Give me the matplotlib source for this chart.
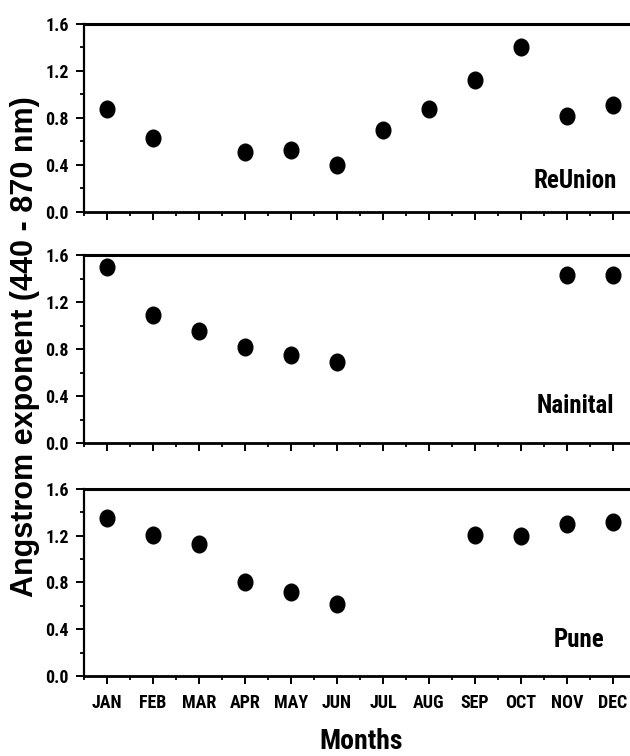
import numpy as np
import matplotlib.pyplot as plt
from matplotlib.ticker import MultipleLocator
from matplotlib.path import Path
from matplotlib.transforms import Affine2D

months = ['JAN', 'FEB', 'MAR', 'APR', 'MAY', 'JUN', 'JUL', 'AUG', 'SEP', 'OCT', 'NOV', 'DEC']
nan = np.nan

# monthly mean angstrom exponent per station (nan = no data)
reunion = [0.88, 0.63, nan, 0.51, 0.53, 0.40, 0.70, 0.88, 1.12, 1.40, 0.82, 0.91]
nainital = [1.50, 1.09, 0.95, 0.82, 0.75, 0.69, nan, nan, nan, nan, 1.43, 1.43]
pune = [1.35, 1.21, 1.13, 0.80, 0.72, 0.62, nan, nan, 1.21, 1.20, 1.30, 1.32]

stations = ['ReUnion', 'Nainital', 'Pune']
values = [reunion, nainital, pune]
yticks = [0.0, 0.4, 0.8, 1.2, 1.6]

plt.rcParams['font.family'] = ['Roboto Condensed', 'DejaVu Sans']
plt.rcParams['font.weight'] = 'bold'

# dots in the original are slightly taller than wide
dot = Path.unit_circle().transformed(Affine2D().scale(0.88, 1.0))

fig = plt.figure(figsize=(6.3, 7.56), dpi=100)

# axes rectangles [left, bottom, width, height] in figure fraction
boxes = [[0.1333, 0.7196, 0.8762, 0.2487],
         [0.1333, 0.4140, 0.8762, 0.2487],
         [0.1333, 0.1060, 0.8762, 0.2470]]
label_pos = [(0.9656, 0.128), (0.960, 0.16), (0.942, 0.152)]

x = np.arange(1, 13)
for i, (name, vals) in enumerate(zip(stations, values)):
    ax = fig.add_axes(boxes[i])
    ax.plot(x, vals, linestyle='none', marker=dot, color='black', markersize=12)
    ax.set_xlim(0.5, 12.5)
    ax.set_ylim(0, 1.6)
    ax.set_yticks(yticks)
    ax.set_yticklabels([f'{v:.1f}' for v in yticks])
    ax.yaxis.set_minor_locator(MultipleLocator(0.2))
    ax.set_xticks(x)
    ax.xaxis.set_minor_locator(MultipleLocator(0.5))
    if i == 2:
        ax.set_xticklabels(months)
    else:
        ax.set_xticklabels([])
    ax.tick_params(which='major', direction='out', length=6, width=1.4, labelsize=13)
    ax.tick_params(axis='y', which='major', pad=5)
    ax.tick_params(axis='x', which='major', pad=7)
    ax.tick_params(which='minor', direction='out', length=3, width=1.3)
    ax.spines['right'].set_visible(False)
    ax.spines['top'].set_linewidth(2.2)
    ax.spines['bottom'].set_linewidth(2.0)
    ax.spines['left'].set_linewidth(1.6)
    for lab in ax.get_xticklabels() + ax.get_yticklabels():
        lab.set_fontweight('bold')
    ax.text(label_pos[i][0], label_pos[i][1], name, transform=ax.transAxes,
            ha='right', va='baseline', fontsize=18, fontweight='bold')

fig.text(0.04, 0.541, 'Angstrom exponent (440 - 870 nm)', rotation=90,
         ha='center', va='center', fontsize=22, fontweight='bold',
         family=['Liberation Sans', 'DejaVu Sans'])
fig.text(0.573, 0.019, 'Months', ha='center', va='center', fontsize=20, fontweight='bold')

fig.savefig('out.png', dpi=100)
